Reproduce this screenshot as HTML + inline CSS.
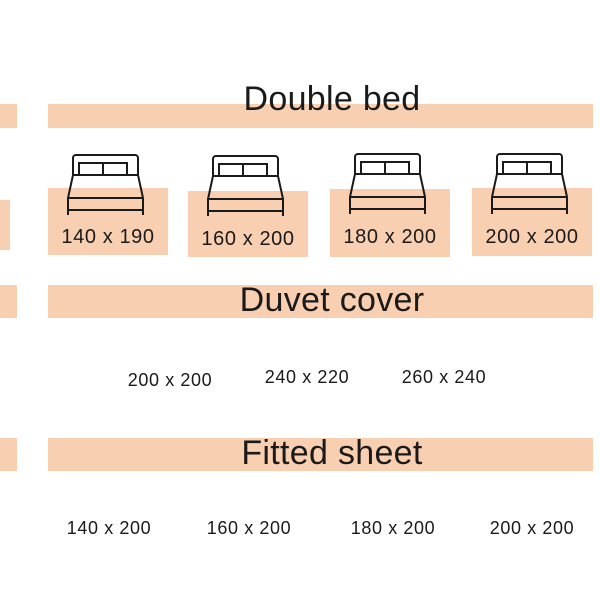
<!DOCTYPE html>
<html><head><style>
body{margin:0;width:600px;height:600px;background:#fff;position:relative;overflow:hidden;font-family:"Liberation Sans",sans-serif;color:#1a1a1a}
.p{position:absolute;background:#f9cfb2}
.t{position:absolute;white-space:nowrap;transform:translateX(-50%)}
.h{font-size:34px;font-weight:500;letter-spacing:0.3px}
.s{font-size:18px;letter-spacing:0.6px}
.b{font-size:20px;letter-spacing:0.6px}
svg{position:absolute;left:0;top:0}
</style></head><body>
<div class="p" style="left:0;top:104px;width:17px;height:24px"></div>
<div class="p" style="left:48px;top:104px;width:545px;height:24px"></div>
<div class="p" style="left:0;top:200px;width:10px;height:50px"></div>
<div class="p" style="left:48px;top:188px;width:120px;height:67px"></div>
<div class="p" style="left:188px;top:191px;width:120px;height:66px"></div>
<div class="p" style="left:330px;top:189px;width:120px;height:68px"></div>
<div class="p" style="left:472px;top:188px;width:120px;height:68px"></div>
<div class="p" style="left:0;top:285px;width:17px;height:33px"></div>
<div class="p" style="left:48px;top:285px;width:545px;height:33px"></div>
<div class="p" style="left:0;top:438px;width:17px;height:33px"></div>
<div class="p" style="left:48px;top:438px;width:545px;height:33px"></div>

<svg width="600" height="600" fill="none" stroke="#1a1a1a" stroke-width="2">
<defs><g id="bed">
<path d="M5 20 V3 a3 3 0 0 1 3 -3 H67 a3 3 0 0 1 3 3 V20 Z"/>
<rect x="11" y="8" width="48" height="12"/><line x1="35" y1="8" x2="35" y2="20"/>
<path d="M5 20 L0 43 V60 M70 20 L75 43 V60"/>
<line x1="0" y1="43" x2="75" y2="43"/><line x1="0" y1="55" x2="75" y2="55"/>
</g></defs>
<use href="#bed" x="68" y="155"/>
<use href="#bed" x="208" y="156"/>
<use href="#bed" x="350" y="154"/>
<use href="#bed" x="492" y="154"/>
</svg>

<div class="t h" style="left:332px;top:80px">Double bed</div>
<div class="t h" style="left:332px;top:281px">Duvet cover</div>
<div class="t h" style="left:332px;top:434px">Fitted sheet</div>

<div class="t b" style="left:108px;top:226px">140 x 190</div>
<div class="t b" style="left:248px;top:228px">160 x 200</div>
<div class="t b" style="left:390px;top:226px">180 x 200</div>
<div class="t b" style="left:532px;top:226px">200 x 200</div>

<div class="t s" style="left:170px;top:370px">200 x 200</div>
<div class="t s" style="left:307px;top:367px">240 x 220</div>
<div class="t s" style="left:444px;top:367px">260 x 240</div>

<div class="t s" style="left:109px;top:518px">140 x 200</div>
<div class="t s" style="left:249px;top:518px">160 x 200</div>
<div class="t s" style="left:393px;top:518px">180 x 200</div>
<div class="t s" style="left:532px;top:518px">200 x 200</div>
</body></html>
